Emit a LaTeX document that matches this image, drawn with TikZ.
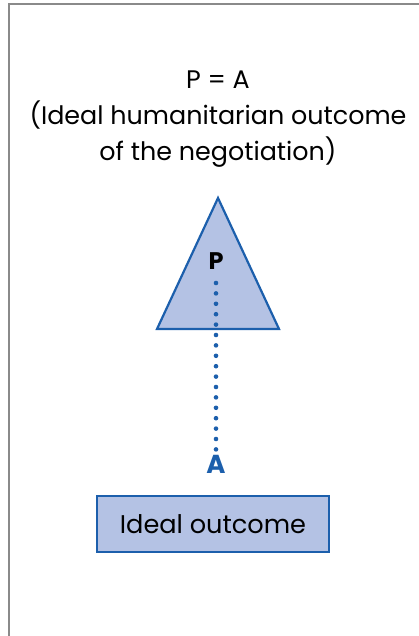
\documentclass[tikz,border=0pt]{standalone}
\usepackage{fontspec}
\setmainfont{Poppins}
\definecolor{fillblue}{HTML}{B4C2E4}
\definecolor{lineblue}{HTML}{1C5FAC}
\definecolor{framegray}{HTML}{8A8A8A}
\begin{document}
\begin{tikzpicture}[x=1pt,y=-1pt,
  frameline/.style={draw=framegray,line width=2pt},
  shapestyle/.style={fill=fillblue,draw=lineblue,line width=2.2pt,line join=miter},
  dotline/.style={draw=lineblue,line width=4.6pt,line cap=round,dash pattern=on 0pt off 10.4pt},
  title/.style={font=\fontsize{25.4}{36}\selectfont,align=center,text=black,inner sep=0pt},
  letter/.style={font=\fontsize{24}{24}\bfseries\selectfont,inner sep=0pt}
]
\useasboundingbox (0,0) rectangle (419,636);
\draw[frameline] (9,636) -- (9,4.5) -- (419,4.5);
\node[title] (t) at (218,119) {P = A\\(Ideal humanitarian outcome\\of the negotiation)};
\draw[shapestyle] (218,198) coordinate (apex) -- (279,329) coordinate (br) -- (157,329) coordinate (bl) -- cycle;
\node[letter,text=black] (P) at (216,261) {P};
\node[letter,text=lineblue,font=\fontsize{26}{26}\bfseries\selectfont] (A) at (216,464) {A};
\coordinate (d1) at (216,283);
\coordinate (d2) at (216,450);
\draw[dotline] (d1) -- (d2);
\node[shapestyle,minimum width=232pt,minimum height=56pt,inner sep=0pt,font=\fontsize{25.6}{25.6}\selectfont] (box) at (213,524) {Ideal outcome};
\end{tikzpicture}
\end{document}
